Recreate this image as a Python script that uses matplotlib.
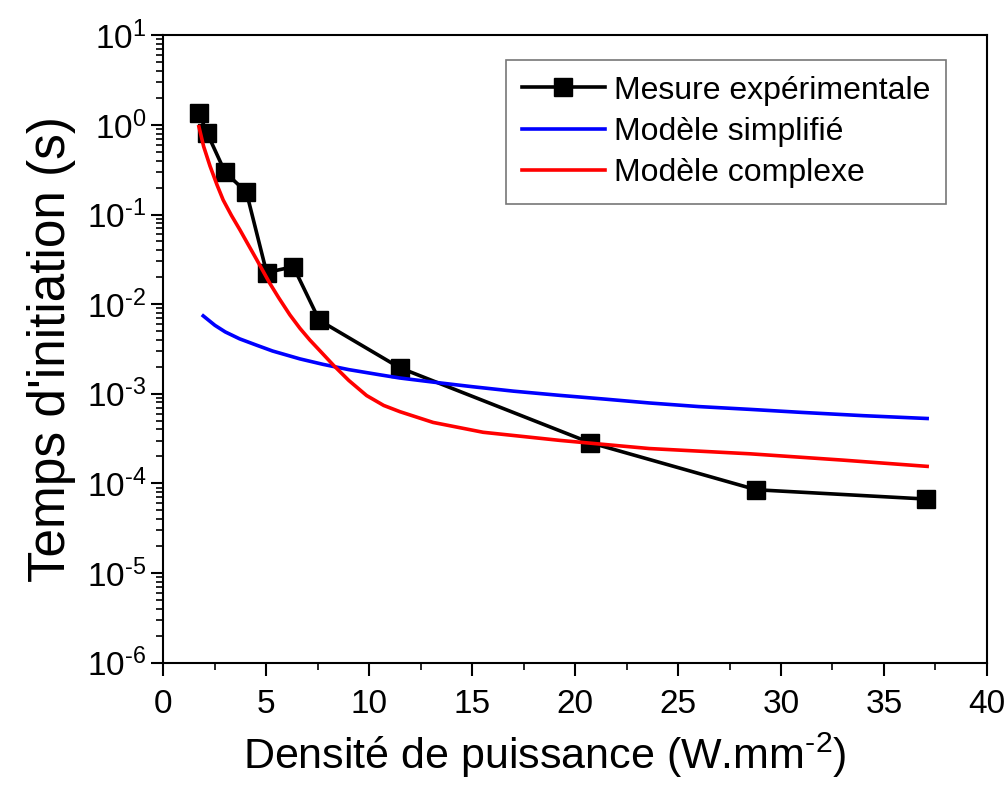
import math
import matplotlib
matplotlib.use('Agg')
import matplotlib.pyplot as plt
from matplotlib.ticker import LogLocator, MultipleLocator, FuncFormatter

# measured points
exp_x = [1.72, 2.11, 2.99, 4.03, 5.01, 6.31, 7.57, 11.48, 20.72, 28.8, 37.03]
exp_y = [1.35, 0.82, 0.297, 0.177, 0.0225, 0.0262, 0.0066, 0.00195, 0.000285, 8.5e-05, 6.7e-05]

# simplified model
simp_x = [1.93, 2.5, 3.0, 3.7, 4.5, 5.3, 6.63, 7.75, 9.0, 10.5, 11.48, 13.1, 15.0, 17.0, 19.26, 21.5, 23.6, 26.0, 28.5, 31.0, 34.0, 37.1]
simp_y = [0.0074, 0.0058, 0.0049, 0.0041, 0.0035, 0.003, 0.00245, 0.00213, 0.00186, 0.00163, 0.0015, 0.00135, 0.0012, 0.00107, 0.00096, 0.00087, 0.00079, 0.00072, 0.00067, 0.00062, 0.00057, 0.00053]

# complex model
comp_x = [1.72, 1.95, 2.26, 2.6, 2.9, 3.3, 3.71, 4.1, 4.52, 5.17, 5.6, 6.14, 6.63, 7.11, 7.6, 8.25, 9.0, 9.87, 10.7, 11.49, 13.1, 15.53, 19.26, 23.6, 28.5, 33.0, 37.1]
comp_y = [0.955, 0.575, 0.347, 0.214, 0.145, 0.0977, 0.0676, 0.0468, 0.0316, 0.017, 0.01175, 0.00759, 0.00537, 0.00398, 0.00302, 0.00209, 0.00141, 0.000955, 0.000741, 0.000631, 0.000479, 0.000372, 0.000302, 0.000245, 0.000214, 0.000182, 0.000155]

plt.rcParams['font.family'] = ['Liberation Sans', 'DejaVu Sans']
plt.rcParams['mathtext.fontset'] = 'custom'
plt.rcParams['mathtext.rm'] = 'Liberation Sans'
plt.rcParams['mathtext.it'] = 'Liberation Sans'


def dec_fmt(v, pos):
    # 10^n labels with a plain hyphen like the original
    e = int(round(math.log10(v)))
    if e < 0:
        return r'$\mathdefault{10^{\text{-}%d}}$' % (-e)
    return r'$\mathdefault{10^{%d}}$' % e


fig = plt.figure(figsize=(10.08, 7.88), dpi=100)
ax = fig.add_axes([0.1622, 0.159, 0.8168, 0.7963])

ax.plot(exp_x, exp_y, color='black', lw=2.6, marker='s', markersize=13,
        label='Mesure expérimentale')
ax.plot(simp_x, simp_y, color='#0000ff', lw=2.6, label='Modèle simplifié')
ax.plot(comp_x, comp_y, color='#ff0000', lw=2.6, label='Modèle complexe')

ax.set_yscale('log')
ax.set_xlim(0, 40)
ax.set_ylim(1e-6, 10)
ax.xaxis.set_major_locator(MultipleLocator(5))
ax.xaxis.set_minor_locator(MultipleLocator(2.5))
ax.yaxis.set_major_locator(LogLocator(base=10, numticks=20))
ax.yaxis.set_minor_locator(LogLocator(base=10, subs=range(2, 10), numticks=20))
ax.yaxis.set_major_formatter(FuncFormatter(dec_fmt))

ax.tick_params(which='major', direction='out', length=9, width=1.5, labelsize=24,
               top=False, right=False)
ax.tick_params(which='minor', direction='out', length=5, width=1.2,
               top=False, right=False)
ax.tick_params(axis='x', pad=10)
for s in ax.spines.values():
    s.set_linewidth(1.5)

ax.set_xlabel(r'Densité de puissance (W.mm$^{\text{-}2}$)', fontsize=31)
ax.xaxis.set_label_coords(0.463, -0.108, transform=ax.transAxes)
ax.xaxis.label.set_va('top')
ax.set_ylabel("Temps d'initiation (s)", fontsize=37, labelpad=8)

leg = ax.legend(loc='upper right', bbox_to_anchor=(0.951, 0.961), fontsize=23,
                frameon=True, fancybox=False, edgecolor='#555555', handlelength=2.6,
                handletextpad=0.3, borderpad=0.5, labelspacing=0.35, borderaxespad=0)
leg.get_frame().set_linewidth(1.2)

fig.savefig('out.png', dpi=100)
